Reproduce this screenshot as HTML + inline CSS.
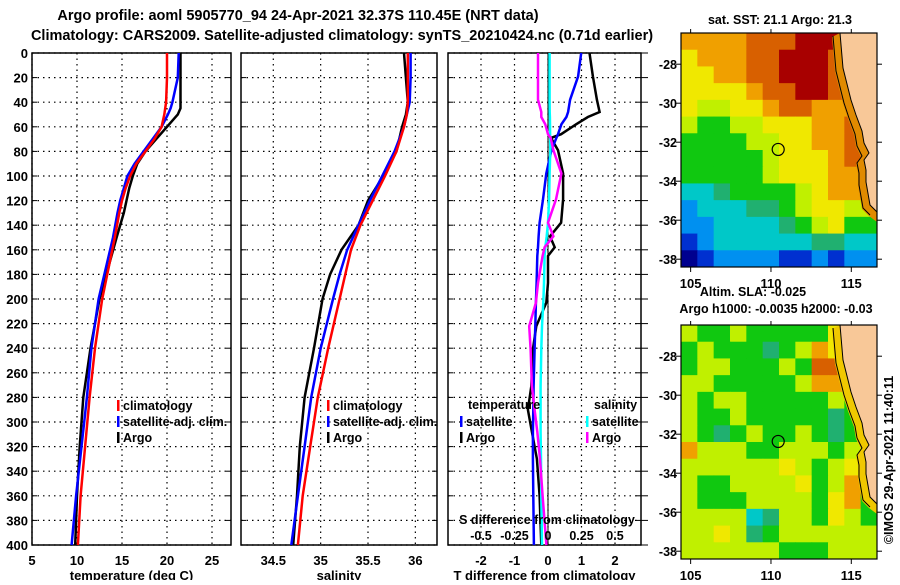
<!DOCTYPE html>
<html><head><meta charset="utf-8"><style>
body{margin:0;background:#fff;}
svg text{font-family:"Liberation Sans",sans-serif;font-weight:bold;}
</style></head><body>
<svg id="chart" width="900" height="580" xmlns="http://www.w3.org/2000/svg">
<rect width="900" height="580" fill="#fff"/>
<text x="298" y="20" font-size="14.5" text-anchor="middle">Argo profile: aoml 5905770_94 24-Apr-2021 32.37S 110.45E (NRT data)</text>
<text x="342" y="40" font-size="14.5" text-anchor="middle">Climatology: CARS2009. Satellite-adjusted climatology: synTS_20210424.nc (0.71d earlier)</text>
<g id="panels"></g>
<g id="maps"></g>
<text x="780" y="24" font-size="12.5" text-anchor="middle">sat. SST: 21.1 Argo: 21.3</text>
<text x="753" y="296" font-size="12.5" text-anchor="middle">Altim. SLA: -0.025</text>
<text x="776" y="313" font-size="12.5" text-anchor="middle">Argo h1000: -0.0035 h2000: -0.03</text>
<text x="0" y="0" font-size="12.5" text-anchor="middle" transform="translate(893,460) rotate(-90)" font-weight="normal">©IMOS 29-Apr-2021 11:40:11</text>
</svg>
<script>
// ---- profile data ----
const tDepth=[0,20,40,45,50,60,70,80,90,100,110,120,130,150,200,240,280,320,360,400];
const tClim=[20.0,20.0,19.9,19.8,19.7,19.4,18.6,17.6,16.6,15.9,15.4,15.0,14.7,14.2,12.8,12.0,11.4,10.9,10.4,10.1];
const tSat=[21.3,21.2,20.6,20.4,20.1,19.4,18.4,17.4,16.4,15.6,15.2,14.8,14.5,14.0,12.4,11.6,11.1,10.5,9.9,9.4];
const tArgo=[21.5,21.5,21.5,21.5,21.2,20.0,18.8,17.6,16.7,16.2,15.8,15.5,15.2,14.4,12.5,11.5,10.7,10.3,10.0,9.8];
const sDepth=[0,20,40,50,60,80,100,120,140,160,180,200,240,280,320,360,400];
const sClim=[35.92,35.92,35.92,35.91,35.88,35.80,35.68,35.55,35.42,35.32,35.26,35.20,35.08,34.97,34.89,34.81,34.76];
const sSat=[35.95,35.95,35.94,35.91,35.88,35.78,35.65,35.52,35.40,35.28,35.20,35.13,35.00,34.90,34.83,34.76,34.69];
const sArgo=[35.88,35.90,35.92,35.90,35.86,35.80,35.66,35.50,35.40,35.22,35.10,35.02,34.93,34.83,34.78,34.75,34.71];
const dDepth=[0,19,38,48,52,58,66,69,79,98,119,138,149,158,165,187,203,222,241,271,290,308,330,360,400];
const dTArgo=[1.24,1.34,1.46,1.54,1.19,0.84,0.39,0.09,0.30,0.45,0.45,0.39,0.06,0.20,0.0,0.0,-0.05,-0.35,-0.45,-0.5,-0.6,-0.48,-0.33,-0.25,-0.2];
const dTSat=[0.99,0.90,0.66,0.60,0.55,0.40,0.30,0.25,0.10,-0.05,-0.15,-0.25,-0.28,-0.30,-0.32,-0.34,-0.36,-0.38,-0.40,-0.43,-0.44,-0.45,-0.45,-0.44,-0.42];
const dSArgo=[-0.075,-0.075,-0.075,-0.05,-0.05,-0.02,0.0,0.02,0.04,0.1,0.06,0.0,0.04,-0.025,-0.04,-0.075,-0.09,-0.14,-0.13,-0.12,-0.1,-0.08,-0.06,-0.04,-0.012];
const dSCyan=[0.012,0.012,0.012,0.013,0.014,0.015,0.016,0.016,0.017,0.012,0.008,0.0,-0.01,-0.02,-0.025,-0.03,-0.035,-0.045,-0.05,-0.055,-0.055,-0.055,-0.052,-0.05,-0.045];
const depthTicks=[0,20,40,60,80,100,120,140,160,180,200,220,240,260,280,300,320,340,360,380,400];
const tTicks=[5,10,15,20,25];
const sTicks=[34.5,35,35.5,36];
const dTicks=[-2,-1,0,1,2];
const dSTicks=[-0.5,-0.25,0,0.25,0.5];
const dSTickLabels=['-0.5','-0.25','0','0.25','0.5'];

const NS='http://www.w3.org/2000/svg';
function mk(tag,attrs,parent){const e=document.createElementNS(NS,tag);for(const k in attrs)e.setAttribute(k,attrs[k]);parent.appendChild(e);return e;}
const yD=d=>53+d*(545-53)/400;
const xT=t=>32+(t-5)*9;
const xS=s=>273.3+(s-34.5)*94.7;
const xDT=t=>548+t*33.5;
const xDS=s=>548+s*4*33.5;
const panels=document.getElementById('panels');

function frame(name,x0,x1,xticks,xf,labels,title){
  const g=mk('g',{},panels);
  
  
  depthTicks.forEach(d=>{
    const l=mk('line',{x1:x0,x2:x1,y1:yD(d),y2:yD(d),stroke:'#000','stroke-width':1.2,'stroke-dasharray':'1.5,4'},g);
    
    
    mk('line',{x1:x0,x2:x0+5,y1:yD(d),y2:yD(d),stroke:'#000'},g);
    mk('line',{x1:x1,x2:x1-5,y1:yD(d),y2:yD(d),stroke:'#000'},g);
  });
  xticks.forEach((v,i)=>{
    const x=xf(v);
    const l=mk('line',{x1:x,x2:x,y1:53,y2:545,stroke:'#000','stroke-width':1.2,'stroke-dasharray':'1.5,4'},g);
    
    
    const t=mk('text',{x:x,y:565,'font-size':13,'text-anchor':'middle'},g);
    t.textContent=labels[i];
    
    
  });
  const r=mk('rect',{x:x0,y:53,width:x1-x0,height:492,fill:'none',stroke:'#000','stroke-width':1.5},g);
  
  
  const tt=mk('text',{x:(x0+x1)/2,y:580,'font-size':13,'text-anchor':'middle'},g);
  tt.textContent=title;
  
  
  return g;
}
function line(g,name,depths,vals,xf,color){
  const pts=depths.map((d,i)=>xf(vals[i]).toFixed(1)+','+yD(d).toFixed(1)).join(' ');
  const p=mk('polyline',{points:pts,fill:'none',stroke:color,'stroke-width':2.5},g);
  
  
}
function legend(g,x,y,color,label){
  mk('rect',{x:x,y:y-10,width:2.5,height:11,fill:color},g);
  const t=mk('text',{x:x+6,y:y,'font-size':12.5},g);
  t.textContent=label;
  
  
}
depthTicks.forEach(d=>{
  const t=mk('text',{x:28,y:yD(d)+5,'font-size':13,'text-anchor':'end'},panels);
  t.textContent=d;
  
  
});
const g1=frame('temperature-panel',32,231,tTicks,xT,tTicks.map(String),'temperature (deg C)');
line(g1,'temp-argo',tDepth,tArgo,xT,'#000');
line(g1,'temp-satellite',tDepth,tSat,xT,'#00f');
line(g1,'temp-climatology',tDepth,tClim,xT,'#f00');
legend(g1,117,410,'#f00','climatology');legend(g1,117,426,'#00f','satellite-adj. clim.');legend(g1,117,442,'#000','Argo');
const g2=frame('salinity-panel',241,437,sTicks,xS,['34.5','35','35.5','36'],'salinity');
line(g2,'sal-argo',sDepth,sArgo,xS,'#000');
line(g2,'sal-satellite',sDepth,sSat,xS,'#00f');
line(g2,'sal-climatology',sDepth,sClim,xS,'#f00');
legend(g2,327,410,'#f00','climatology');legend(g2,327,426,'#00f','satellite-adj. clim.');legend(g2,327,442,'#000','Argo');
const g3=frame('difference-panel',448,641,dTicks,xDT,dTicks.map(String),'T difference from climatology');
depthTicks.forEach(d=>{mk('line',{x1:641,x2:648,y1:yD(d),y2:yD(d),stroke:'#000'},g3);});
mk('line',{x1:xDT(0),x2:xDT(0),y1:53,y2:545,stroke:'#000','stroke-width':1},g3);
line(g3,'dT-argo',dDepth,dTArgo,xDT,'#000');
line(g3,'dT-satellite',dDepth,dTSat,xDT,'#00f');
line(g3,'dS-satellite',dDepth,dSCyan,xDS,'#0ff');
line(g3,'dS-argo',dDepth,dSArgo,xDS,'#f0f');
(function(){
  let t=mk('text',{x:468,y:409,'font-size':12.5},g3);t.textContent='temperature';
  
  t=mk('text',{x:594,y:409,'font-size':12.5},g3);t.textContent='salinity';
  
  legend(g3,460,426,'#00f','satellite');legend(g3,460,442,'#000','Argo');
  legend(g3,586,426,'#0ff','satellite');legend(g3,586,442,'#f0f','Argo');
  t=mk('text',{x:547,y:524,'font-size':12.5,'text-anchor':'middle'},g3);t.textContent='S difference from climatology';
  
  dSTicks.forEach((s,i)=>{const q=mk('text',{x:xDS(s),y:540,'font-size':12.5,'text-anchor':'middle'},g3);q.textContent=dSTickLabels[i];
    });
})();

// ---- maps ----
const palette=['#00008f','#0030d0','#0090f0','#00c8c8','#20b070','#10c810','#c0f000','#f0e800','#f0a000','#d86000','#a80000'];
const sstGrid=[
[8,8,8,8,9,9,9,10,10,10,8,8],
[7,8,8,8,9,9,10,10,10,9,8,8],
[7,7,8,8,9,9,10,10,10,9,8,8],
[7,7,7,7,8,9,9,10,10,9,8,8],
[7,6,6,7,7,8,9,9,8,8,8,8],
[6,5,5,6,6,7,7,7,8,8,9,9],
[5,5,5,5,6,6,7,7,8,8,9,9],
[5,5,5,5,5,6,7,7,7,8,9,9],
[5,5,5,5,5,6,7,7,7,8,8,9],
[3,3,4,5,5,5,5,6,7,8,8,9],
[2,3,3,3,4,4,5,6,7,7,6,6],
[2,2,3,3,3,3,4,5,6,7,5,5],
[1,2,3,3,3,3,3,3,4,4,3,3],
[0,1,2,2,2,2,1,1,2,1,2,2]];
const slaGrid=[
[6,5,5,6,5,5,5,5,5,7,7,7],
[5,6,5,5,5,4,5,6,8,7,7,7],
[5,6,6,5,5,5,6,5,9,9,7,7],
[6,6,5,5,5,5,5,6,8,8,6,7],
[6,5,6,6,5,5,5,5,5,6,5,7],
[6,5,5,6,5,5,5,5,5,4,5,7],
[6,5,4,5,6,5,5,6,5,4,5,7],
[8,6,6,6,5,5,6,6,6,5,6,7],
[6,6,6,6,6,6,7,6,5,6,7,7],
[6,5,5,6,6,6,6,7,5,6,8,6],
[6,5,5,5,6,6,6,6,5,7,8,5],
[6,6,6,6,3,4,6,6,5,7,6,5],
[6,6,7,6,4,5,6,6,6,6,6,6],
[6,6,6,6,6,6,5,5,5,6,6,6]];
const latTicks=[-28,-30,-32,-34,-36,-38];
const lonTicks=[105,110,115];
const argoLon=110.45, argoLat=-32.37;
const maps=document.getElementById('maps');
const defs=mk('defs',{},maps);
function drawMap(name,grid,top){
  const x0=681,x1=877,y0=top,y1=top+234;
  const lonL=104.4,lonR=116.6,latT=-26.4,latB=-38.4;
  const xL=lo=>x0+(lo-lonL)/(lonR-lonL)*(x1-x0);
  const yL=la=>y0+(latT-la)/(latT-latB)*(y1-y0);
  const g=mk('g',{},maps);
  
  
  const cp=mk('clipPath',{id:'clip'+top},defs);
  mk('rect',{x:x0,y:y0,width:x1-x0,height:y1-y0},cp);
  const cg=mk('g',{'clip-path':'url(#clip'+top+')'},g);
  const cells=mk('g',{},cg);
  const rows=grid.length,cols=grid[0].length,cw=(x1-x0)/cols,ch=(y1-y0)/rows;
  grid.forEach((row,r)=>row.forEach((v,c)=>{
    const e=mk('rect',{x:x0+c*cw,y:y0+r*ch,width:cw+0.5,height:ch+0.5,fill:palette[v]},cells);
    
    
  }));
  const o=top-33;
  const coast=[[840,33],[843,68],[848,88],[851,100],[856,115],[862,131],[864,143],[869,153],[864,160],[866,170],[866,182],[870,205],[877,212]];
  const strip=coast.concat([[877,222]]).concat(coast.slice().reverse().map(p=>[p[0]-8,p[1]+4]));
  const sp=mk('polygon',{points:strip.map(p=>p[0]+','+(p[1]+o)).join(' '),fill:top>100?'#f0c800':'#e08a00'},cg);
  
  const land=[[877,33]].concat(coast);
  const lp=mk('polygon',{points:land.map(p=>p[0]+','+(p[1]+o)).join(' '),fill:'#f8c898',stroke:'#000','stroke-width':1},cg);
  
  const iso=coast.map(p=>[p[0]-7,p[1]+3]);
  mk('polyline',{points:iso.map(p=>p[0]+','+(p[1]+o)).join(' '),fill:'none',stroke:'#000','stroke-width':1},cg);
  const m=mk('circle',{cx:xL(argoLon),cy:yL(argoLat),r:6,fill:'none',stroke:'#000','stroke-width':1.2},g);
  
  const fr=mk('rect',{x:x0,y:y0,width:x1-x0,height:y1-y0,fill:'none',stroke:'#000','stroke-width':1.2},g);
  
  latTicks.forEach(la=>{const y=yL(la);
    mk('line',{x1:x0-5,x2:x0,y1:y,y2:y,stroke:'#000'},g);mk('line',{x1:x1,x2:x1+5,y1:y,y2:y,stroke:'#000'},g);
    const t=mk('text',{x:x0-4,y:y+5,'font-size':12.5,'text-anchor':'end'},g);t.textContent=la;
    });
  lonTicks.forEach(lo=>{const x=xL(lo);
    mk('line',{x1:x,x2:x,y1:y1,y2:y1+5,stroke:'#000'},g);mk('line',{x1:x,x2:x,y1:y0-4,y2:y0,stroke:'#000'},g);
    const t=mk('text',{x:x,y:y1+21,'font-size':13,'text-anchor':'middle'},g);t.textContent=lo;
    });
}
drawMap('sst-map',sstGrid,33);
drawMap('sla-map',slaGrid,325);
</script>
</body></html>
